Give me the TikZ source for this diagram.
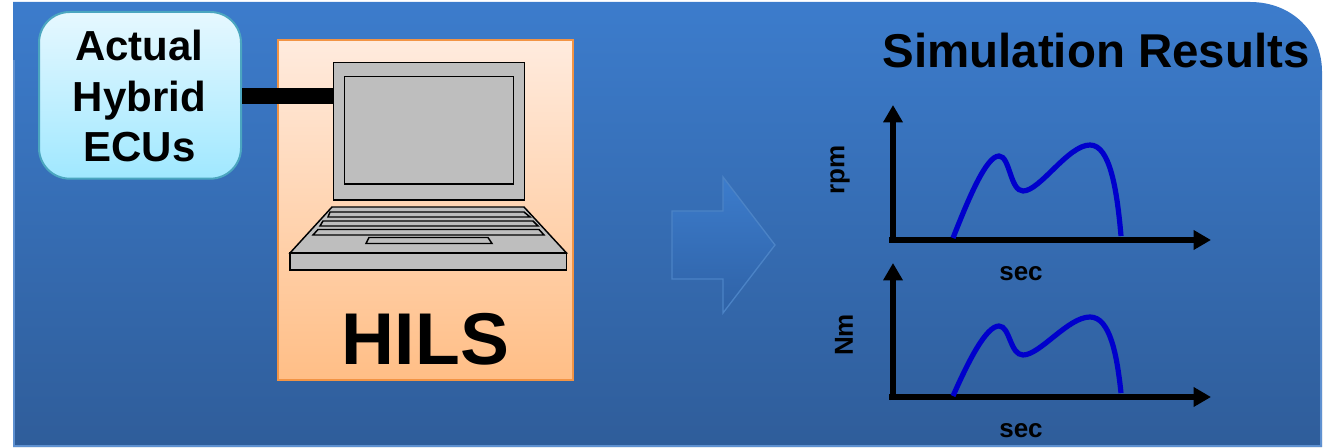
\documentclass[tikz,border=0pt]{standalone}
\usepackage{fontspec}
\setmainfont{Liberation Sans}
\usetikzlibrary{arrows.meta}
\definecolor{bgtop}{HTML}{3C7CCC}
\definecolor{bgbot}{HTML}{2F5D9A}
\definecolor{bgline}{HTML}{5E90D0}
\definecolor{ecutop}{HTML}{E6F8FF}
\definecolor{ecubot}{HTML}{A0E8FF}
\definecolor{eculine}{HTML}{4BA6C0}
\definecolor{hiltop}{HTML}{FFEBDE}
\definecolor{hilbot}{HTML}{FFBE86}
\definecolor{hilline}{HTML}{F29445}
\definecolor{lap}{HTML}{BEBEBE}
\definecolor{arrline}{HTML}{4B83C6}
\definecolor{arrbot}{HTML}{2F62A6}
\definecolor{curve}{HTML}{0000CC}
\tikzset{
  lapshape/.style={draw=black,fill=lap,line width=1.1pt,line join=miter},
  axisline/.style={draw=black,line width=4.5pt,-{Triangle[length=13pt,width=14pt]}},
  curveline/.style={draw=curve,line width=3.9pt},
  smalllabel/.style={font=\bfseries\fontsize{19.5}{22}\selectfont,text=black,inner sep=0pt},
}
\newcommand{\chartaxes}[4]{%
  \coordinate (#1o) at (893,#2+3);
  \coordinate (#1y) at (893,#3);
  \coordinate (#1a) at (889,#2);
  \coordinate (#1x) at (1211,#2);
  \draw[axisline] (#1o) -- (#1y);
  \draw[axisline] (#1a) -- (#1x);
  \node[smalllabel] (#1l) at (1021,#4) {sec};
}
\begin{document}
\begin{tikzpicture}[x=0.75pt,y=-0.75pt]
\useasboundingbox (0,0) rectangle (1326,448);
\path[top color=bgtop,bottom color=bgbot]
  (13,2) -- (1250,2) .. controls (1292,2) and (1322,32) .. (1322,72) -- (1322,447) -- (13,447) -- cycle;
\draw[bgline,line width=1.5pt] (1321,90) -- (1321,446) -- (14,446) -- (14,60);
% arrow
\path[top color=bgtop,bottom color=arrbot,draw=arrline,line width=1pt,line join=miter]
  (672,211) -- (723,211) -- (723,177) -- (775,245) -- (723,313) -- (723,279) -- (672,279) -- cycle;
% HILS panel
\node[draw=hilline,line width=1.5pt,top color=hiltop,bottom color=hilbot,minimum width=221.5pt,minimum height=255pt,inner sep=0pt,anchor=north west] (hils) at (277,39) {};
\node[inner sep=0pt,font=\bfseries\fontsize{55}{60}\selectfont] (hilstext) at (425.5,339) {HILS};
% ECU
\node[draw=eculine,line width=1.5pt,top color=ecutop,bottom color=ecubot,rounded corners=23pt,minimum width=151.5pt,minimum height=125pt,inner sep=0pt,anchor=north west] (ecu) at (38,11) {};
\node[inner sep=0pt,align=center,font=\bfseries\fontsize{31.5}{38}\selectfont] (ecutext) at (139.5,96) {Actual\\Hybrid\\ECUs};
% laptop
\node[lapshape,minimum width=143pt,minimum height=103pt,inner sep=0pt,anchor=north west] (screen) at (333,62) {};
\node[lapshape,minimum width=126.5pt,minimum height=80.5pt,inner sep=0pt,anchor=north west] (inner) at (344,76) {};
\draw[lapshape] (332,207) -- (524,207) -- (566.5,253) -- (290,253) -- cycle;
\draw[lapshape] (290,253) rectangle (566.5,270);
\draw[lapshape] (330,212) -- (524,212) -- (530,217) -- (328,217) -- cycle;
\draw[lapshape] (323,221) -- (533,221) -- (538,226) -- (320,226) -- cycle;
\draw[lapshape] (318,229.5) -- (539,229.5) -- (544,235) -- (313,235) -- cycle;
\draw[lapshape] (369,237.5) -- (488,237.5) -- (492,243.5) -- (366,243.5) -- cycle;
% connector
\draw[black,line width=12pt] (ecu.east |- 0,96) coordinate (cs) -- (screen.west |- 0,96) coordinate (ce);
% title
\node[inner sep=0pt,font=\bfseries\fontsize{35.6}{40}\selectfont] (title) at (1096,51) {Simulation Results};
% charts
\chartaxes{a}{240}{105}{274}
\chartaxes{b}{397}{263}{431}
\coordinate (as) at (953,238);
\coordinate (ae) at (1121,236);
\draw[curveline] (as) .. controls (968,200) and (986,156) .. (999,156)
  .. controls (1010,156) and (1010,191) .. (1023,191)
  .. controls (1040,191) and (1068,145) .. (1090,145)
  .. controls (1110,145) and (1117,190) .. (ae);
\coordinate (bs) at (953,396);
\coordinate (be) at (1121,393);
\draw[curveline] (bs) .. controls (968,362) and (986,326) .. (999,326)
  .. controls (1010,326) and (1010,355) .. (1023,355)
  .. controls (1040,355) and (1068,317) .. (1090,317)
  .. controls (1110,317) and (1117,355) .. (be);
\node[smalllabel,rotate=90] (rpm) at (840,170) {rpm};
\node[smalllabel,rotate=90] (nm) at (844,335) {Nm};
\end{tikzpicture}
\end{document}
